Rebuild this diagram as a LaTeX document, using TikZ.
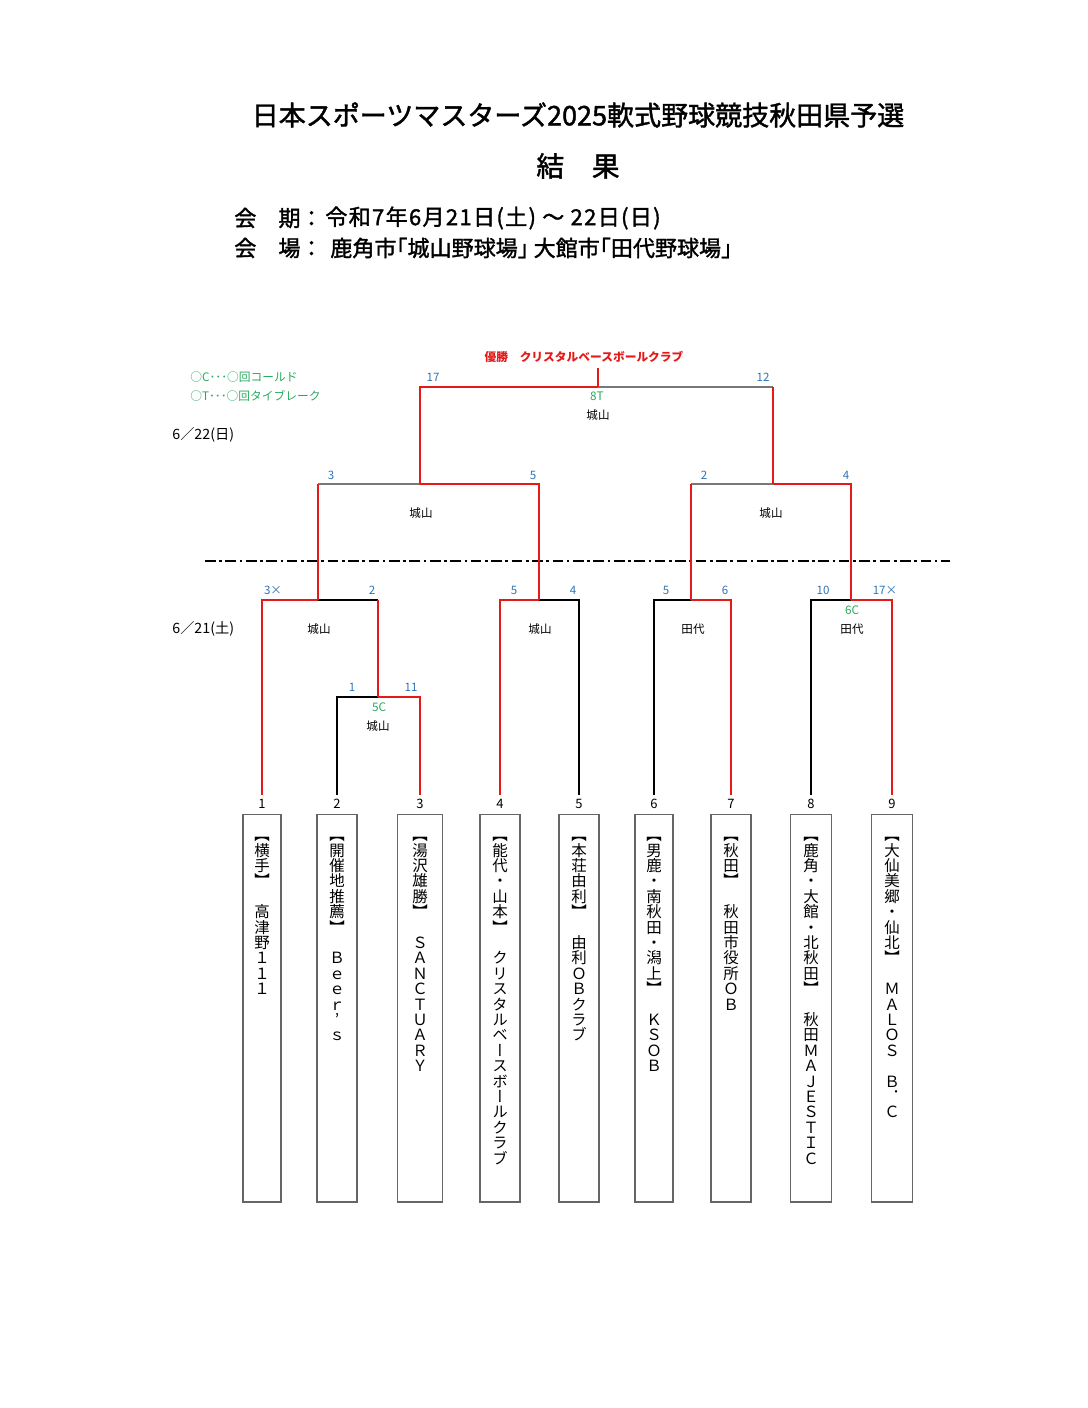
\documentclass[tikz,border=0pt]{standalone}
\usepackage{fontspec}
\setmainfont{Noto Sans CJK JP}
\newfontfamily\tatefont[RawFeature=+vert]{Noto Sans CJK JP}
\newfontfamily\headfont[FakeBold=1.5]{Noto Sans CJK JP}
\newfontfamily\headwide[FakeBold=1.5, LetterSpace=6]{Noto Sans CJK JP}
\usetikzlibrary{positioning}

\definecolor{winred}{RGB}{230,25,25}
\definecolor{scoreblue}{RGB}{46,117,182}
\definecolor{notegreen}{RGB}{40,170,95}
\definecolor{linegray}{RGB}{120,120,120}

% team names written top to bottom, one character per line
\newcommand\tate[1]{\vbox{\tatefont\fontsize{8.7pt}{8.66pt}\selectfont
  \baselineskip=8.66pt\lineskiplimit=-20pt\lineskip=0pt\tateloop#1\relax}}
\def\tateloop#1{\ifx\relax#1\else
  \hbox to 8.7pt{\vrule height 7.6pt depth 1.06pt width 0pt\hss#1\hss}%
  \expandafter\tateloop\fi}

\begin{document}
\begin{tikzpicture}[x=0.5625pt, y=-0.5625pt,
    teambox/.style={rectangle, draw=black!60, line width=0.8pt, minimum width=22.5pt, minimum height=218pt, inner sep=0pt},
    teamname/.style={inner sep=0pt},
    seednum/.style={font=\fontsize{7.3pt}{8pt}\selectfont, inner xsep=0pt, inner ysep=2.4pt},
    scorenum/.style={text=scoreblue, font=\fontsize{6.5pt}{7pt}\selectfont, inner sep=0pt},
    notegr/.style={text=notegreen, font=\fontsize{6.6pt}{7pt}\selectfont, inner sep=0pt},
    venue/.style={font=\fontsize{6.5pt}{7pt}\selectfont, inner sep=0pt},
    headline/.style={anchor=west, font=\headfont\fontsize{12.4pt}{14pt}\selectfont, inner sep=0pt},
    dayline/.style={anchor=west, font=\fontsize{8pt}{9pt}\selectfont, inner sep=0pt},
    winline/.style={draw=winred, line width=1.4pt},
    loseline/.style={draw=black, line width=0.8pt},
    upline/.style={draw=linegray, line width=1.1pt}]
    \useasboundingbox (0,0) rectangle (1088,1408);

    % heading
    \node(title)[font=\headfont\fontsize{15.2pt}{18pt}\selectfont] at (578,115) {日本スポーツマスターズ2025軟式野球競技秋田県予選};
    \node(result)[font=\headfont\fontsize{15.6pt}{18pt}\selectfont] at (578,166) {結　果};
    \node(kikan)[headline] at (234,218) {会　期：};
    \node(kikanval)[headline, font=\headwide\fontsize{12.4pt}{14pt}\selectfont] at (325,218) {令和7年6月21日(土) ～ 22日(日)};
    \node(kaijo)[headline] at (234,248) {会　場：};
    \node(kaijoval)[headline] at (330,248) {鹿角市｢城山野球場｣ 大館市｢田代野球場｣};

    \node(legc)[notegr, anchor=west] at (190,377) {○C･･･○回コールド};
    \node(legt)[notegr, anchor=west] at (190,396) {○T･･･○回タイブレーク};
    \node(day2)[dayline] at (172,435) {6／22(日)};
    \node(day1)[dayline] at (172,629) {6／21(土)};
    \node(champ)[text=winred, font=\fontsize{6.6pt}{7pt}\selectfont\bfseries, inner xsep=0pt, inner ysep=2.5pt] at (584,357) {優勝　クリスタルベースボールクラブ};

    % teams
    \node(t1)[teambox, minimum width=21.5pt] at (262,1008) {};
    \node(t2)[teambox] at (337,1008) {};
    \node(t3)[teambox, minimum width=25pt] at (420,1008) {};
    \node(t4)[teambox] at (500,1008) {};
    \node(t5)[teambox] at (579,1008) {};
    \node(t6)[teambox, minimum width=21.5pt] at (654,1008) {};
    \node(t7)[teambox] at (731,1008) {};
    \node(t8)[teambox, minimum width=23pt] at (811,1008) {};
    \node(t9)[teambox, minimum width=23pt] at (892,1008) {};

    \node(nm1)[teamname, below=7.5pt of t1.north] {\tate{【横手】　高津野１１１}};
    \node(nm2)[teamname, below=7.5pt of t2.north] {\tate{【開催地推薦】　Ｂｅｅｒ’ｓ}};
    \node(nm3)[teamname, below=7.5pt of t3.north] {\tate{【湯沢雄勝】　ＳＡＮＣＴＵＡＲＹ}};
    \node(nm4)[teamname, below=7.5pt of t4.north] {\tate{【能代・山本】　クリスタルベースボールクラブ}};
    \node(nm5)[teamname, below=7.5pt of t5.north] {\tate{【本荘由利】　由利ＯＢクラブ}};
    \node(nm6)[teamname, below=7.5pt of t6.north] {\tate{【男鹿・南秋田・潟上】　ＫＳＯＢ}};
    \node(nm7)[teamname, below=7.5pt of t7.north] {\tate{【秋田】　秋田市役所ＯＢ}};
    \node(nm8)[teamname, below=7.5pt of t8.north] {\tate{【鹿角・大館・北秋田】　秋田ＭＡＪＥＳＴＩＣ}};
    \node(nm9)[teamname, below=7.5pt of t9.north] {\tate{【大仙美郷・仙北】　ＭＡＬＯＳ　Ｂ．Ｃ}};

    \node(n1)[seednum, above=0pt of t1] {1};
    \node(n2)[seednum, above=0pt of t2] {2};
    \node(n3)[seednum, above=0pt of t3] {3};
    \node(n4)[seednum, above=0pt of t4] {4};
    \node(n5)[seednum, above=0pt of t5] {5};
    \node(n6)[seednum, above=0pt of t6] {6};
    \node(n7)[seednum, above=0pt of t7] {7};
    \node(n8)[seednum, above=0pt of t8] {8};
    \node(n9)[seednum, above=0pt of t9] {9};

    % match points
    \coordinate(m23) at (378,697);
    \coordinate(q1) at (318,600);
    \coordinate(q2) at (539,600);
    \coordinate(q3) at (691,600);
    \coordinate(q4) at (851,600);
    \coordinate(s1) at (420,484);
    \coordinate(s2) at (773,484);
    \coordinate(fin) at (598,387);
    \coordinate(dl) at (205,561);
    \coordinate(dr) at (950,561);

    \draw[line width=1.1pt, dash pattern=on 6pt off 2pt on 1.5pt off 2pt] (dl) -- (dr);

    % losing sides
    \draw[loseline] (n2.north) |- (m23);
    \draw[loseline] (m23 |- q1) -- (q1);
    \draw[loseline] (n5.north) |- (q2);
    \draw[loseline] (n6.north) |- (q3);
    \draw[loseline] (n8.north) |- (q4);
    \draw[upline] (q1 |- s1) -- (s1);
    \draw[upline] (q3 |- s2) -- (s2);
    \draw[upline] (s2 |- fin) -- (fin);

    % winning sides
    \draw[winline] (n3.north) |- (m23);
    \draw[winline] (m23) -- (m23 |- q1);
    \draw[winline] (n1.north) |- (q1);
    \draw[winline] (n4.north) |- (q2);
    \draw[winline] (n7.north) |- (q3);
    \draw[winline] (n9.north) |- (q4);
    \draw[winline] (q1) -- (q1 |- s1);
    \draw[winline] (q2) |- (s1);
    \draw[winline] (q3) -- (q3 |- s2);
    \draw[winline] (q4) |- (s2);
    \draw[winline] (s1) |- (fin);
    \draw[winline] (s2) -- (s2 |- fin);
    \draw[winline] (fin) -- (fin |- champ.south);

    % scores and grounds
    \node(sf1)[scorenum] at (433,377) {17};
    \node(sf2)[scorenum] at (763,377) {12};
    \node(nf)[notegr] at (597,396) {8T};
    \node(vf)[venue] at (598,415) {城山};

    \node(ss11)[scorenum] at (331,475) {3};
    \node(ss12)[scorenum] at (533,475) {5};
    \node(vs1)[venue] at (421,513) {城山};
    \node(ss21)[scorenum] at (704,475) {2};
    \node(ss22)[scorenum] at (846,475) {4};
    \node(vs2)[venue] at (771,513) {城山};

    \node(sq11)[scorenum] at (273,590) {3×};
    \node(sq12)[scorenum] at (372,590) {2};
    \node(vq1)[venue] at (319,629) {城山};
    \node(sq21)[scorenum] at (514,590) {5};
    \node(sq22)[scorenum] at (573,590) {4};
    \node(vq2)[venue] at (540,629) {城山};
    \node(sq31)[scorenum] at (666,590) {5};
    \node(sq32)[scorenum] at (725,590) {6};
    \node(vq3)[venue] at (693,629) {田代};
    \node(sq41)[scorenum] at (823,590) {10};
    \node(sq42)[scorenum] at (885,590) {17×};
    \node(nq4)[notegr] at (852,610) {6C};
    \node(vq4)[venue] at (852,629) {田代};

    \node(sm1)[scorenum] at (352,687) {1};
    \node(sm2)[scorenum] at (411,687) {11};
    \node(nm)[notegr] at (379,707) {5C};
    \node(vm)[venue] at (378,726) {城山};
\end{tikzpicture}
\end{document}
